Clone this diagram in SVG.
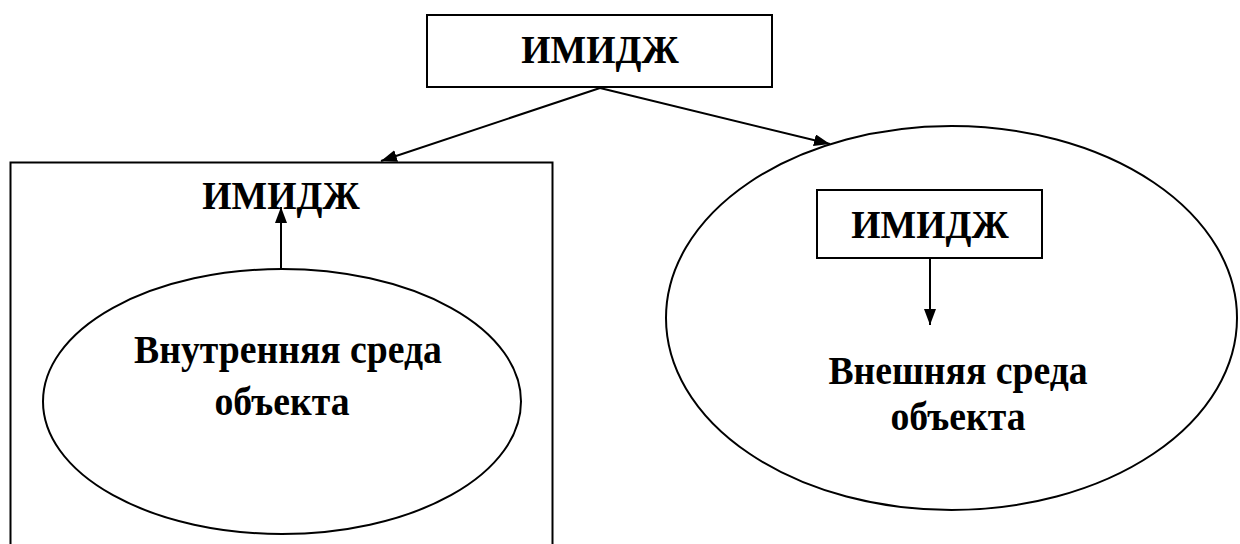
<svg xmlns="http://www.w3.org/2000/svg" width="1240" height="544" viewBox="0 0 1240 544">
<defs>
<style>
.b{fill:none;stroke:#000;stroke-width:2}
.t{font-family:"Liberation Serif","Times New Roman",serif;font-weight:bold;font-size:41px;fill:#000;text-anchor:middle}
.c{stroke:#000;stroke-width:2;fill:none}
</style>
<marker id="ah2" viewBox="0 0 16 12" refX="16" refY="6" markerWidth="16" markerHeight="12" markerUnits="userSpaceOnUse" orient="auto">
<path d="M0,0 L16,6 L0,12 Z" fill="#000"/>
</marker>
</defs>
<rect width="1240" height="544" fill="#fff"/>
<g id="top">
<rect class="b" x="427" y="15" width="345" height="72"/>
<text class="t" transform="translate(600,63) scale(0.92,1)">ИМИДЖ</text>
</g>
<g id="internal">
<rect class="b" x="10.5" y="162.5" width="542" height="400"/>
<text class="t" transform="translate(281,209) scale(0.92,1)">ИМИДЖ</text>
<ellipse class="b" cx="282" cy="401.5" rx="239" ry="132.5"/>
<text class="t" transform="translate(288,363) scale(0.92,1)">Внутренняя среда</text>
<text class="t" transform="translate(282,415) scale(0.92,1)">объекта</text>
</g>
<g id="external">
<ellipse class="b" cx="951.5" cy="318" rx="285.5" ry="192"/>
<rect class="b" x="817" y="190" width="225" height="68"/>
<text class="t" transform="translate(930,238) scale(0.92,1)">ИМИДЖ</text>
<text class="t" transform="translate(958,384) scale(0.92,1)">Внешняя среда</text>
<text class="t" transform="translate(958,430) scale(0.92,1)">объекта</text>
</g>
<g id="connectors">
<line class="c" x1="600" y1="88" x2="381" y2="161" marker-end="url(#ah2)"/>
<line class="c" x1="600" y1="88" x2="830" y2="144" marker-end="url(#ah2)"/>
<line class="c" x1="281" y1="268" x2="281" y2="207" marker-end="url(#ah2)"/>
<line class="c" x1="930" y1="258" x2="930" y2="325" marker-end="url(#ah2)"/>
</g>
</svg>
